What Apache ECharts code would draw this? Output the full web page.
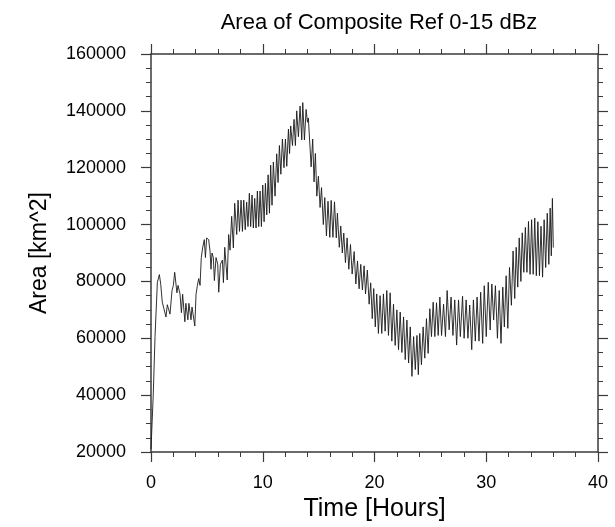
<!DOCTYPE html>
<html>
<head>
<meta charset="utf-8">
<script src="https://cdn.jsdelivr.net/npm/echarts@6/dist/echarts.min.js"></script>
<style>
  html, body { margin: 0; padding: 0; background: #fff; }
  #chart { width: 615px; height: 527px; }
</style>
</head>
<body>
<div id="chart"></div>
<script>
// ---- Data (time in hours, area in km^2) ----
const hoursRise = [0.00,0.20,0.36,0.57,0.75,0.87,1.01,1.16,1.34,1.46,1.61,1.70,1.88,2.00,2.12,2.24,2.32,2.42,2.51,2.60,2.72,2.83,2.93,3.03,3.12,3.21,3.30,3.39,3.48,3.58,3.67,3.80,3.92,4.03,4.15,4.27,4.39,4.50,4.62,4.77,4.87,4.98,5.16,5.28,5.37,5.46,5.58,5.67,5.82,5.97,6.06,6.21,6.39,6.48,6.60,6.72,6.82,6.95,7.07,7.22,7.37,7.49,7.67];
const areaRise  = [21000,40000,60600,79700,82400,79000,72700,72000,67500,71800,71800,68500,76800,78600,83200,82500,76000,78600,78000,75500,69000,75500,75500,65800,72300,72000,66500,72300,72300,66500,71000,71000,64300,75500,78600,81000,78600,88400,91800,94700,88400,95300,94700,90700,84300,90000,88400,80300,88400,86100,76200,86000,87500,79600,92000,92500,80500,96500,91000,102900,91800,107500,96500];

const hoursPeak = [7.79,7.92,8.06,8.18,8.30,8.43,8.56,8.68,8.80,8.92,9.04,9.16,9.28,9.40,9.52,9.64,9.76,9.88,10.00,10.12,10.24,10.36,10.48,10.60,10.71,10.83,10.95,11.10,11.25,11.37,11.49,11.62,11.76,11.90,12.03,12.15,12.30,12.40,12.50,12.66,12.80,12.92,13.04,13.19,13.34,13.49,13.58];
const areaPeak  = [108600,97600,108600,97600,108600,98200,107900,99300,111000,99300,110400,98800,109200,98800,111800,99300,111800,99300,113900,101000,114500,103400,117500,104000,120900,106800,122000,110000,124900,114800,127800,117700,130100,120000,130100,120500,133600,125000,134700,127800,137000,127800,140000,130900,141700,129800,142900];

const hoursDecline = [13.73,13.88,14.00,14.08,14.33,14.47,14.59,14.71,14.84,14.98,15.13,15.26,15.42,15.55,15.70,15.84,16.00,16.12,16.28,16.42,16.58,16.68,16.85,16.98,17.12,17.25,17.40,17.55,17.70,17.85,18.00,18.18,18.33,18.48,18.62,18.77,18.92,19.07,19.20,19.36,19.52,19.66,19.80,19.93,20.07,20.20,20.35];
const areaDecline  = [129800,140500,136000,137500,120300,130100,115000,125000,110000,117000,106000,113000,100000,109500,96000,108200,95500,108500,95500,108000,95300,104000,92000,99500,90000,97000,86600,95300,84300,93000,82600,90500,79100,87200,77400,86000,77000,85500,75600,84000,72000,79500,66900,77500,64000,75600,61700];

const hoursTrough = [20.50,20.65,20.80,20.95,21.10,21.25,21.40,21.55,21.70,21.85,22.00,22.15,22.30,22.45,22.60,22.75,22.90,23.05,23.20,23.35,23.50,23.65,23.80,23.92,24.05,24.20,24.35,24.50,24.65,24.80,24.95,25.10,25.25,25.40,25.55,25.70];
const areaTrough  = [75000,61700,75600,62500,76800,61000,76000,59000,72000,57500,70000,56000,69200,55000,67500,52500,66400,51300,64000,46600,60600,49000,61000,47200,61700,50700,64000,53000,66900,54700,70400,60600,72700,60600,72500,61000];

const hoursFlat = [25.85,26.00,26.18,26.35,26.50,26.68,26.85,27.02,27.18,27.35,27.52,27.68,27.88,28.02,28.20,28.36,28.52,28.70,28.85,29.02,29.18,29.35,29.50,29.68,29.82,30.00,30.18,30.35];
const areaFlat  = [74500,61000,72000,60600,76800,63000,74500,61000,73500,57600,73500,60600,74800,60000,73500,60000,71700,56000,73500,59000,74500,59000,76200,58200,78500,60600,79700,62900];

const hoursEnd = [30.50,30.66,30.82,31.00,31.16,31.32,31.48,31.62,31.78,31.93,32.08,32.25,32.40,32.55,32.68,32.82,32.95,33.10,33.22,33.36,33.50,33.64,33.78,33.92,34.06,34.20,34.34,34.48,34.62,34.76,34.90,35.04,35.18,35.32,35.46,35.60,35.72,35.82,35.92,36.00];
const areaEnd  = [79100,66400,78500,60000,76800,58200,78000,64000,82000,63500,84900,71600,90700,74000,92000,78000,95300,80000,97100,83200,99000,83200,101100,82500,101700,82500,102300,82000,101000,82000,99400,81500,101700,84900,104000,86000,105800,89000,109200,91900];

const xTicks = [0, 10, 20, 30, 40];
const yTicks = [20000, 40000, 60000, 80000, 100000, 120000, 140000, 160000];

const titleText = 'Area of Composite Ref 0-15 dBz';
const xName = 'Time [Hours]';
const yName = 'Area [km^2]';

// ---- Build series ----
const hours = [].concat(hoursRise, hoursPeak, hoursDecline, hoursTrough, hoursFlat, hoursEnd);
const area  = [].concat(areaRise, areaPeak, areaDecline, areaTrough, areaFlat, areaEnd);
const seriesData = hours.map((h, i) => [h, area[i]]);

const FONT = 'Liberation Sans, Arial, Helvetica, sans-serif';
const AX = '#3a3a3a';

function makeX(pos, showLabel) {
  return {
    type: 'value', position: pos,
    min: xTicks[0], max: xTicks[xTicks.length - 1], interval: xTicks[1] - xTicks[0],
    axisLine: { show: true, onZero: false, lineStyle: { color: AX, width: 1.5 } },
    axisTick: { show: true, inside: false, length: 10, lineStyle: { color: AX, width: 1.2 } },
    minorTick: { show: true, splitNumber: 5, length: 5, lineStyle: { color: AX, width: 1 } },
    splitLine: { show: false }, minorSplitLine: { show: false },
    axisLabel: { show: showLabel, margin: 22, color: '#000', fontSize: 18, fontFamily: FONT,
                 formatter: v => String(v) },
    name: showLabel ? xName : '', nameLocation: 'middle', nameGap: 45,
    nameTextStyle: { color: '#000', fontSize: 25, fontFamily: FONT }
  };
}
function makeY(pos, showLabel) {
  return {
    type: 'value', position: pos,
    min: yTicks[0], max: yTicks[yTicks.length - 1], interval: yTicks[1] - yTicks[0],
    axisLine: { show: true, onZero: false, lineStyle: { color: AX, width: 1.5 } },
    axisTick: { show: true, inside: false, length: 10, lineStyle: { color: AX, width: 1.2 } },
    minorTick: { show: true, splitNumber: 4, length: 5, lineStyle: { color: AX, width: 1 } },
    splitLine: { show: false }, minorSplitLine: { show: false },
    axisLabel: { show: showLabel, margin: 25, color: '#000', fontSize: 18, fontFamily: FONT,
                 formatter: v => String(v) },
    name: showLabel ? yName : '', nameLocation: 'middle', nameGap: 100, nameRotate: 90,
    nameTextStyle: { color: '#000', fontSize: 23, fontFamily: FONT }
  };
}

const chart = echarts.init(document.getElementById('chart'), null, { renderer: 'canvas' });
chart.setOption({
  animation: false,
  backgroundColor: '#fff',
  title: {
    text: titleText, left: 374, top: 7, textAlign: 'center',
    textStyle: { color: '#000', fontSize: 22, fontWeight: 'normal', fontFamily: FONT }
  },
  grid: { left: 151, right: 17, top: 54, bottom: 70, containLabel: false },
  xAxis: [makeX('bottom', true), makeX('top', false)],
  yAxis: [makeY('left', true), makeY('right', false)],
  series: [{
    type: 'line', xAxisIndex: 0, yAxisIndex: 0,
    data: seriesData, showSymbol: false, symbol: 'none',
    lineStyle: { color: '#1a1a1a', width: 0.9 },
    smooth: false
  }]
});
</script>
</body>
</html>
